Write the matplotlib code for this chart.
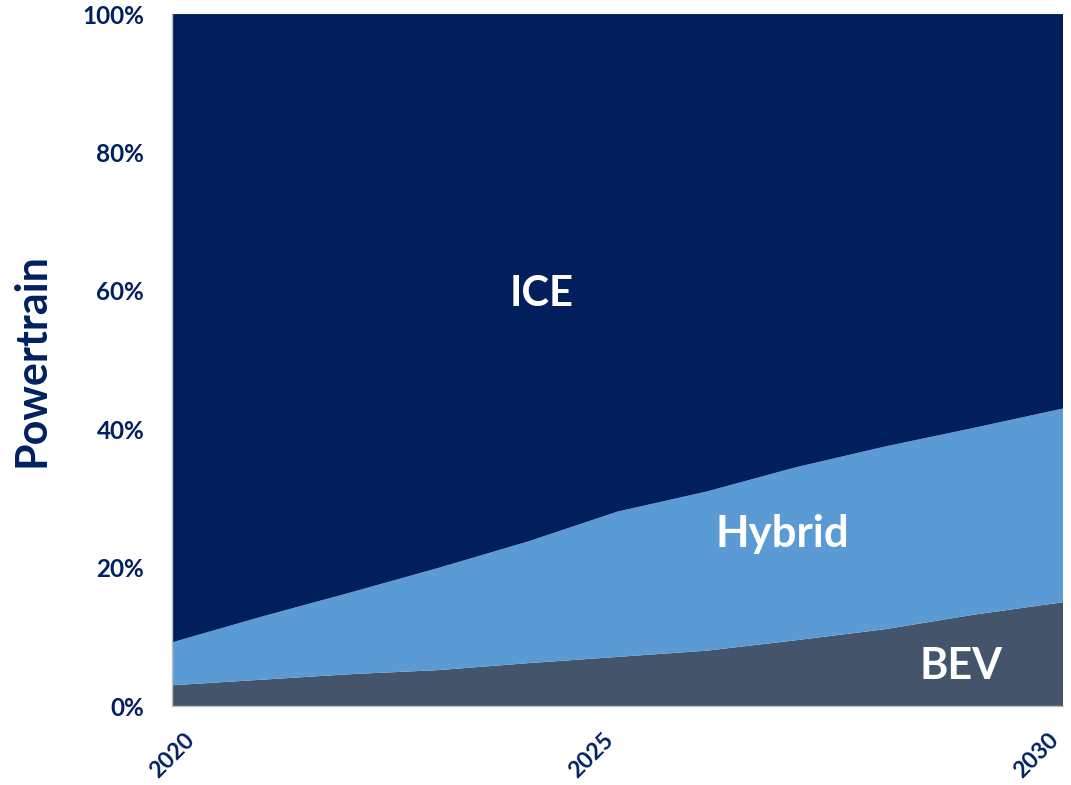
import matplotlib.pyplot as plt
import matplotlib.transforms as mtransforms
from matplotlib.ticker import PercentFormatter

plt.rcParams['font.family'] = ['Lato', 'DejaVu Sans']

# share of powertrain by year (%)
years = [2020, 2021, 2022, 2023, 2024, 2025, 2026, 2027, 2028, 2029, 2030]
bev = [3.0, 3.8, 4.6, 5.2, 6.2, 7.1, 8.0, 9.5, 11.1, 13.2, 15.0]
hybrid_top = [9.2, 12.9, 16.4, 20.0, 23.8, 28.1, 31.0, 34.5, 37.5, 40.2, 43.0]
hybrid = [h - b for h, b in zip(hybrid_top, bev)]
ice = [100 - h for h in hybrid_top]

navy = '#002060'
colors = ['#44546A', '#5B9BD5', '#001F5C']

fig = plt.figure(figsize=(10.71, 7.85), dpi=100)
ax = fig.add_axes([0.1606, 0.1006, 0.832, 0.8815])

ax.stackplot(years, bev, hybrid, ice, colors=colors, linewidth=0)

ax.set_xlim(2020, 2030)
ax.set_ylim(0, 100)
ax.set_xticks([2020, 2025, 2030])
ax.set_yticks(range(0, 101, 20))
ax.yaxis.set_major_formatter(PercentFormatter(decimals=0))
ax.tick_params(length=0, labelcolor=navy)
ax.tick_params(axis='y', pad=20, labelsize=17.5)
ax.tick_params(axis='x', pad=17, labelsize=16.5)
for lab in ax.get_yticklabels():
    lab.set_fontweight('bold')
for lab in ax.get_xticklabels():
    lab.set_fontweight('bold')
    lab.set_rotation(45)
    lab.set_ha('right')
    lab.set_va('top')
# first year label sits a little right of its tick
first = ax.get_xticklabels()[0]
first.set_transform(first.get_transform() +
                    mtransforms.ScaledTranslation(0.27, 0, fig.dpi_scale_trans))

for side in ['top', 'right']:
    ax.spines[side].set_visible(False)
for side in ['left', 'bottom']:
    ax.spines[side].set_color('#BFBFBF')
    ax.spines[side].set_linewidth(1)

ax.set_ylabel('Powertrain', fontsize=31, fontweight='bold', color=navy, labelpad=22)

lbl = dict(color='white', fontweight='bold', ha='center', va='center')
ax.text(2024.15, 59.5, 'ICE', fontsize=30, **lbl)
ax.text(2026.85, 24.9, 'Hybrid', fontsize=31.5, **lbl)
ax.text(2028.85, 5.8, 'BEV', fontsize=31, **lbl)

fig.savefig('out.png', dpi=100)
